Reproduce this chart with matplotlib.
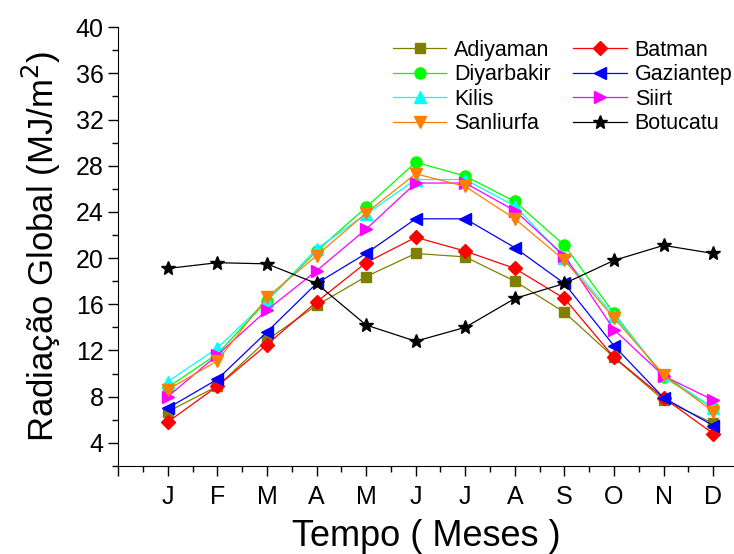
import numpy as np
import matplotlib.pyplot as plt
from matplotlib.ticker import MultipleLocator

plt.rcParams['font.family'] = ['Liberation Sans', 'DejaVu Sans']

meses = ['J', 'F', 'M', 'A', 'M', 'J', 'J', 'A', 'S', 'O', 'N', 'D']
x = np.arange(1, 13)

adiyaman = [6.7, 8.9, 12.9, 15.9, 18.4, 20.4, 20.1, 18.0, 15.3, 11.4, 7.7, 5.7]
batman = [5.8, 8.9, 12.5, 16.2, 19.6, 21.8, 20.6, 19.1, 16.5, 11.4, 7.9, 4.8]
diyarbakir = [8.8, 11.7, 16.3, 20.6, 24.4, 28.3, 27.1, 24.9, 21.1, 15.2, 9.7, 7.0]
gaziantep = [7.0, 9.5, 13.6, 17.8, 20.4, 23.4, 23.4, 20.9, 17.8, 12.4, 7.9, 5.5]
kilis = [9.3, 12.2, 16.3, 20.8, 23.8, 26.8, 26.8, 24.5, 20.0, 15.0, 9.9, 7.0]
siirt = [8.0, 11.6, 15.5, 18.9, 22.5, 26.5, 26.5, 24.1, 20.2, 13.8, 9.8, 7.7]
sanliurfa = [8.6, 11.1, 16.6, 20.2, 23.9, 27.3, 26.2, 23.4, 19.8, 14.8, 9.9, 6.7]
botucatu = [19.1, 19.6, 19.5, 17.8, 14.2, 12.8, 14.0, 16.5, 17.8, 19.8, 21.1, 20.4]

fig = plt.figure(figsize=(7.34, 5.54), dpi=100)
ax = fig.add_axes([0.161, 0.159, 0.839, 0.792])

lw = 0.9
l_adi, = ax.plot(x, adiyaman, color='#808000', marker='s', ms=7, lw=lw, label='Adiyaman')
l_bat, = ax.plot(x, batman, color='#ff0000', marker='D', ms=7.5, lw=lw, label='Batman')
l_diy, = ax.plot(x, diyarbakir, color='#00ff00', marker='o', ms=8, lw=lw, label='Diyarbakir')
l_gaz, = ax.plot(x, gaziantep, color='#0000ff', marker='<', ms=9, lw=lw, label='Gaziantep')
l_kil, = ax.plot(x, kilis, color='#00ffff', marker='^', ms=9, lw=lw, label='Kilis')
l_sii, = ax.plot(x, siirt, color='#ff00ff', marker='>', ms=9, lw=lw, label='Siirt')
l_san, = ax.plot(x, sanliurfa, color='#ff8000', marker='v', ms=9, lw=lw, label='Sanliurfa')
l_bot, = ax.plot(x, botucatu, color='black', marker='*', ms=10, lw=lw, label='Botucatu')

# legenda em duas colunas, sem moldura
ax.legend(handles=[l_adi, l_diy, l_kil, l_san, l_bat, l_gaz, l_sii, l_bot],
          ncol=2, frameon=False, fontsize=15.5, handlelength=2.5,
          columnspacing=1.05, labelspacing=0.16, handletextpad=0.35,
          borderpad=0.2, loc='upper right', bbox_to_anchor=(1.022, 1.005))

ax.set_xlim(0, 12.42)
ax.set_ylim(2, 40)
ax.set_xticks(range(0, 13))
ax.set_xticklabels([''] + meses)
ax.xaxis.set_minor_locator(MultipleLocator(0.5))
ax.set_yticks(range(4, 41, 4))
ax.yaxis.set_minor_locator(MultipleLocator(2))

ax.spines['top'].set_visible(False)
ax.spines['right'].set_visible(False)
ax.tick_params(axis='both', which='major', labelsize=18, length=7, width=1, direction='out')
ax.tick_params(axis='both', which='minor', length=4, width=1, direction='out')
ax.tick_params(axis='x', pad=7)

ax.set_xlabel('Tempo ( Meses )', fontsize=26, labelpad=7)
ax.set_ylabel('Radiação Global (MJ/m$^2$)', fontsize=25, labelpad=9)

fig.savefig('out.png', dpi=100)
